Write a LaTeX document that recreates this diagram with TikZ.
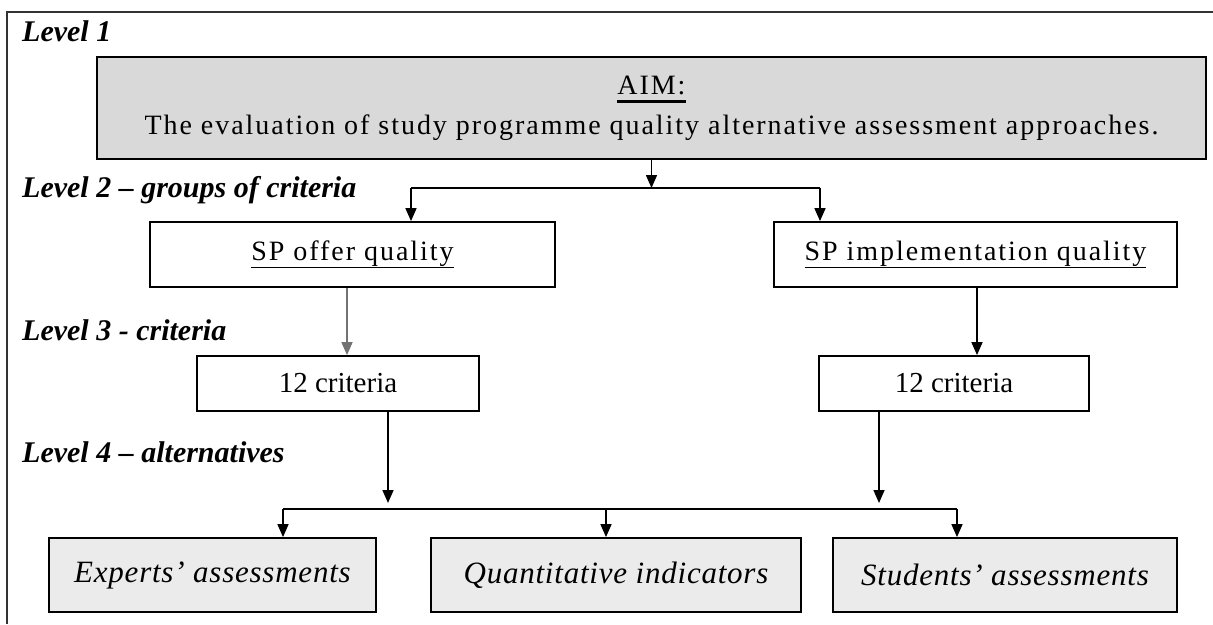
\documentclass[tikz,border=0pt]{standalone}
\usepackage{fontspec}
\setmainfont{Liberation Serif}
\newfontfamily\spaced[LetterSpace=7]{Liberation Serif}
\newfontfamily\lightspaced[LetterSpace=2.5]{Liberation Serif}
\usetikzlibrary{arrows.meta}

% underline with a rule of given thickness
\newcommand{\undl}[2]{\leavevmode\setbox0=\hbox{#2}\rlap{\copy0}\vrule width\wd0 height-6pt depth\dimexpr6pt+#1\relax}

\tikzset{
  lvl/.style={anchor=base west,inner sep=0pt,font=\fontsize{30}{34}\selectfont\bfseries\itshape},
  box/.style={draw,line width=1.8pt,inner sep=0pt,font=\spaced\fontsize{28}{40}\selectfont},
  critbox/.style={box,minimum height=55,font=\fontsize{29}{34}\selectfont},
  alt/.style={box,fill=black!8,minimum height=74,font=\lightspaced\fontsize{31}{36}\selectfont\itshape},
  arr/.style={line width=1.6pt,-{Triangle[length=13pt,width=11pt]}},
  bus/.style={line width=1.6pt}
}

\begin{document}
\begin{tikzpicture}[x=1pt,y=-1pt]
  \useasboundingbox (0,0) rectangle (1213,624);
  \draw[line width=1.2pt,black!80] (1213,12) -- (7,12) -- (7,624);

  \coordinate (busA) at (651,188);
  \coordinate (busAl) at (411,188);
  \coordinate (busAr) at (820,188);
  \coordinate (inB1) at (388,503);
  \coordinate (inB2) at (879,503);
  \coordinate (busBl) at (283,509);
  \coordinate (busBm) at (606,509);
  \coordinate (busBr) at (957,509);

  % level labels
  \node[lvl] (lev1) at (22,41) {Level 1};
  \node[lvl] (lev2) at (22,197) {Level 2 – groups of criteria};
  \node[lvl] (lev3) at (22,340) {Level 3 - criteria};
  \node[lvl] (lev4) at (22,462) {Level 4 – alternatives};

  % boxes
  \node[box,fill=black!15,minimum width=1109,minimum height=102,align=center] (aim) at (651.5,108)
    {\undl{2.5pt}{AIM:}\\The evaluation of study programme quality alternative assessment approaches.};
  \node[box,minimum width=405,minimum height=65] (offer) at (352.5,254.5) {\undl{1.2pt}{SP offer quality}};
  \node[box,minimum width=403,minimum height=65] (impl) at (975.5,254.5) {\undl{1.2pt}{SP implementation quality}};
  \node[critbox,minimum width=282] (crit1) at (338,383.5) {12 criteria};
  \node[critbox,minimum width=270] (crit2) at (954,383.5) {12 criteria};
  \node[alt,minimum width=327] (expert) at (212.5,575) {Experts’ assessments};
  \node[alt,minimum width=370] (quant) at (616,575) {Quantitative indicators};
  \node[alt,minimum width=344] (student) at (1005,575) {Students’ assessments};

  % connectors
  \draw[arr] (aim.south) -- (aim.south |- busA);
  \draw[bus] (busAl) -- (busAr);
  \draw[arr] (busAl) -- (busAl |- offer.north);
  \draw[arr] (busAr) -- (busAr |- impl.north);
  \draw[arr,black!55] ([xshift=-5.5]offer.south) -- ([xshift=9]crit1.north);
  \draw[arr] ([xshift=1.5]impl.south) -- ([xshift=23]crit2.north);

  \draw[arr] (crit1.south -| inB1) -- (inB1);
  \draw[arr] (crit2.south -| inB2) -- (inB2);
  \draw[bus] (busBl) -- (busBr);
  \draw[arr] (busBl) -- (busBl |- expert.north);
  \draw[arr] (busBm) -- (busBm |- quant.north);
  \draw[arr] (busBr) -- (busBr |- student.north);
\end{tikzpicture}
\end{document}
